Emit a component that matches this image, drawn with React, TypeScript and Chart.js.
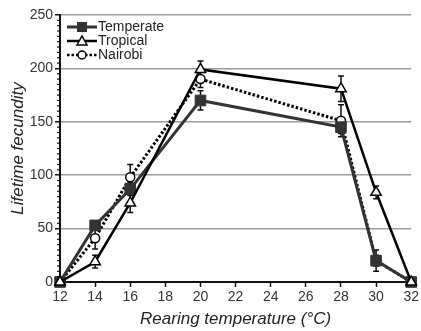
import React, { useEffect, useRef } from "react";
import { Chart, registerables } from "chart.js";

Chart.register(...registerables);

const temps = [12, 14, 16, 20, 28, 30, 32];
const temperate = [0, 53, 87, 170, 145, 20, 0];
const temperateErr = [0, 4, 6, 9, 6, 10, 0];
const tropical = [0, 19, 74, 199, 181, 84, 0];
const tropicalErr = [0, 6, 9, 8, 12, 6, 0];
const nairobi = [0, 41, 98, 190, 151, 20, 0];
const nairobiErr = [0, 10, 12, 8, 15, 5, 0];
const seriesNames = ["Temperate", "Tropical", "Nairobi"];
const yTicks = [0, 50, 100, 150, 200, 250];
const xTicks = [12, 14, 16, 18, 20, 22, 24, 26, 28, 30, 32];

const FONT = "'Liberation Sans', Arial, sans-serif";

const errorBarPlugin = {
  id: "errorBars",
  beforeDatasetsDraw(chart: any) {
    const { ctx, scales } = chart;
    const x = scales.x;
    const y = scales.y;
    const sets = [
      { v: temperate, e: temperateErr },
      { v: tropical, e: tropicalErr },
      { v: nairobi, e: nairobiErr },
    ];
    ctx.save();
    ctx.strokeStyle = "#111";
    ctx.lineWidth = 1.5;
    sets.forEach((s) => {
      temps.forEach((t, i) => {
        const err = s.e[i];
        if (!err) return;
        const px = x.getPixelForValue(t);
        const top = y.getPixelForValue(s.v[i] + err);
        const bot = y.getPixelForValue(Math.max(0, s.v[i] - err));
        ctx.beginPath();
        ctx.moveTo(px, top);
        ctx.lineTo(px, bot);
        ctx.moveTo(px - 3, top);
        ctx.lineTo(px + 3, top);
        ctx.moveTo(px - 3, bot);
        ctx.lineTo(px + 3, bot);
        ctx.stroke();
      });
    });
    ctx.restore();
  },
  afterDraw(chart: any) {
    const { ctx, scales } = chart;
    const y = scales.y;
    const axisX = y.right;
    ctx.save();
    ctx.strokeStyle = "#111";
    ctx.lineWidth = 1.2;
    for (let v = 5; v < 250; v += 5) {
      if (v % 50 === 0) continue;
      const py = y.getPixelForValue(v);
      ctx.beginPath();
      ctx.moveTo(axisX - 3, py);
      ctx.lineTo(axisX, py);
      ctx.stroke();
    }
    const rows = [
      { name: seriesNames[0], dash: [], color: "#333", w: 3, marker: "square" },
      { name: seriesNames[1], dash: [], color: "#000", w: 2.5, marker: "triangle" },
      { name: seriesNames[2], dash: [2.5, 2], color: "#000", w: 2.5, marker: "circle" },
    ];
    const lx0 = 67;
    const lx1 = 97;
    const mx = 82;
    const ys = [27, 41, 55];
    rows.forEach((r, i) => {
      const ly = ys[i];
      ctx.save();
      ctx.strokeStyle = r.color;
      ctx.lineWidth = r.w;
      ctx.setLineDash(r.dash);
      ctx.beginPath();
      ctx.moveTo(lx0, ly);
      ctx.lineTo(lx1, ly);
      ctx.stroke();
      ctx.restore();
      ctx.save();
      ctx.lineWidth = 1.5;
      if (r.marker === "square") {
        ctx.fillStyle = "#333";
        ctx.fillRect(mx - 5, ly - 5, 10, 10);
      } else if (r.marker === "triangle") {
        ctx.fillStyle = "#fff";
        ctx.strokeStyle = "#000";
        ctx.beginPath();
        ctx.moveTo(mx, ly - 5);
        ctx.lineTo(mx + 5, ly + 4);
        ctx.lineTo(mx - 5, ly + 4);
        ctx.closePath();
        ctx.fill();
        ctx.stroke();
      } else {
        ctx.fillStyle = "#fff";
        ctx.strokeStyle = "#000";
        ctx.beginPath();
        ctx.arc(mx, ly, 4, 0, Math.PI * 2);
        ctx.fill();
        ctx.stroke();
      }
      ctx.restore();
      ctx.fillStyle = "#222";
      ctx.font = "14px " + FONT;
      ctx.textBaseline = "middle";
      ctx.textAlign = "left";
      ctx.fillText(r.name, lx1 + 1, ly);
    });
    ctx.restore();
  },
};

export default function App() {
  const ref = useRef<HTMLCanvasElement | null>(null);
  useEffect(() => {
    document.body.style.margin = "0";
    const canvas = ref.current;
    if (!canvas) return;
    const toPts = (arr: number[]) => temps.map((t, i) => ({ x: t, y: arr[i] }));
    const chart = new Chart(canvas, {
      type: "line",
      data: {
        datasets: [
          {
            label: seriesNames[0],
            data: toPts(temperate),
            borderColor: "#333",
            backgroundColor: "#333",
            borderWidth: 3,
            pointStyle: "rect",
            pointRadius: 7.5,
            pointBackgroundColor: "#333",
            pointBorderColor: "#333",
            pointBorderWidth: 1,
            clip: false,
            order: 1,
          },
          {
            label: seriesNames[1],
            data: toPts(tropical),
            borderColor: "#000",
            backgroundColor: "#fff",
            borderWidth: 2.5,
            pointStyle: "triangle",
            pointRadius: 6,
            pointBackgroundColor: "#fff",
            pointBorderColor: "#000",
            pointBorderWidth: 1.5,
            clip: false,
            order: 0,
          },
          {
            label: seriesNames[2],
            data: toPts(nairobi),
            borderColor: "#000",
            backgroundColor: "#fff",
            borderWidth: 3,
            borderDash: [2.5, 2],
            pointStyle: "circle",
            pointRadius: 4.5,
            pointBackgroundColor: "#fff",
            pointBorderColor: "#000",
            pointBorderWidth: 1.5,
            clip: false,
            order: 2,
          },
        ] as any,
      },
      options: {
        animation: false,
        responsive: false,
        maintainAspectRatio: false,
        layout: { padding: { top: 15, right: 9, left: 0, bottom: 0 } },
        plugins: {
          legend: { display: false },
          tooltip: { enabled: false },
        },
        scales: {
          x: {
            type: "linear",
            min: 12,
            max: 32,
            afterBuildTicks: (s: any) => {
              s.ticks = xTicks.map((v) => ({ value: v }));
            },
            afterFit: (s: any) => {
              s.height = 49;
            },
            ticks: {
              color: "#333",
              font: { family: FONT, size: 14 },
              padding: 2,
              maxRotation: 0,
              autoSkip: false,
            },
            grid: {
              drawOnChartArea: false,
              drawTicks: true,
              tickLength: 5,
              tickColor: "#111",
              tickWidth: 1.5,
            },
            border: { color: "#111", width: 2 },
            title: {
              display: true,
              text: "Rearing temperature (°C)",
              color: "#222",
              font: { family: FONT, size: 17, style: "italic" },
              padding: { top: 0, bottom: 2 },
            },
          },
          y: {
            type: "linear",
            min: 0,
            max: 250,
            afterBuildTicks: (s: any) => {
              s.ticks = yTicks.map((v) => ({ value: v }));
            },
            afterFit: (s: any) => {
              s.width = 60;
            },
            ticks: {
              color: "#333",
              font: { family: FONT, size: 14 },
              padding: 2,
            },
            grid: {
              color: (c: any) => (c.tick && c.tick.value === 0 ? "rgba(0,0,0,0)" : "#9a9a9a"),
              lineWidth: 1.5,
              drawTicks: true,
              tickLength: 5,
              tickColor: "#111",
              tickWidth: 1.5,
            },
            border: { color: "#111", width: 2 },
            title: {
              display: true,
              text: "Lifetime fecundity",
              color: "#222",
              font: { family: FONT, size: 17, style: "italic" },
              padding: { top: 8, bottom: 0 },
            },
          },
        },
      },
      plugins: [errorBarPlugin],
    } as any);
    return () => chart.destroy();
  }, []);
  return (
    <div style={{ position: "absolute", left: 0, top: 0, width: 421, height: 331, background: "#fff" }}>
      <canvas ref={ref} width={421} height={331} style={{ width: 421, height: 331 }} />
    </div>
  );
}
